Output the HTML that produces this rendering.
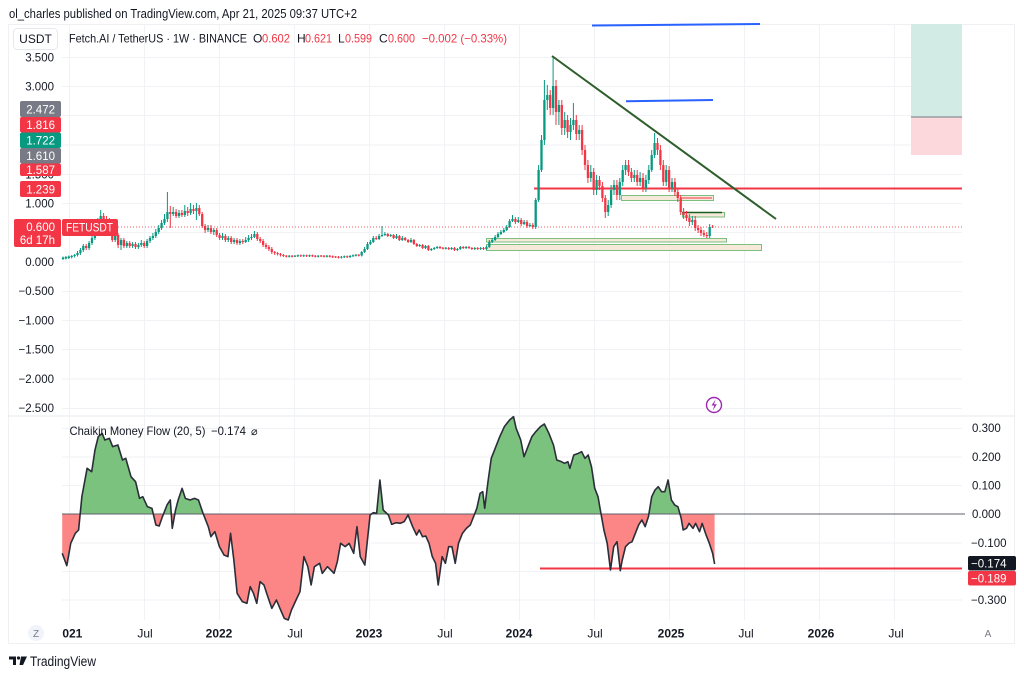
<!DOCTYPE html>
<html><head><meta charset="utf-8"><style>
html,body{margin:0;padding:0;background:#fff;}
svg{display:block;font-family:"Liberation Sans",sans-serif;}
</style></head><body>
<svg width="1024" height="676" viewBox="0 0 1024 676" xmlns="http://www.w3.org/2000/svg">
<defs>
<clipPath id="ctop"><rect x="0" y="0" width="1024" height="514"/></clipPath>
<clipPath id="cbot"><rect x="0" y="514" width="1024" height="200"/></clipPath>
<clipPath id="cax"><rect x="0" y="52" width="62" height="370"/></clipPath>
<clipPath id="ctime"><rect x="62" y="620" width="905" height="25"/></clipPath>
</defs>
<rect width="1024" height="676" fill="#fff"/>
<!-- header -->
<text x="9" y="18" font-size="12.5" fill="#131722" textLength="348" lengthAdjust="spacingAndGlyphs">ol_charles published on TradingView.com, Apr 21, 2025 09:37 UTC+2</text>
<!-- frame -->
<rect x="8.5" y="24.5" width="1006" height="619" fill="none" stroke="#eef0f3" stroke-width="1"/>
<line x1="8" y1="416" x2="1015" y2="416" stroke="#e6e8ee" stroke-width="1"/>
<!-- grid -->
<g stroke="#f0f2f6" stroke-width="1">
<line x1="69.5" y1="24" x2="69.5" y2="620"/><line x1="144.5" y1="24" x2="144.5" y2="620"/><line x1="219.5" y1="24" x2="219.5" y2="620"/><line x1="294.5" y1="24" x2="294.5" y2="620"/><line x1="369.5" y1="24" x2="369.5" y2="620"/><line x1="444.5" y1="24" x2="444.5" y2="620"/><line x1="519.5" y1="24" x2="519.5" y2="620"/><line x1="594.5" y1="24" x2="594.5" y2="620"/><line x1="669.5" y1="24" x2="669.5" y2="620"/><line x1="744.5" y1="24" x2="744.5" y2="620"/><line x1="819.5" y1="24" x2="819.5" y2="620"/><line x1="894.5" y1="24" x2="894.5" y2="620"/>
<line x1="62" y1="57.5" x2="962" y2="57.5"/><line x1="62" y1="86.5" x2="962" y2="86.5"/><line x1="62" y1="115.5" x2="962" y2="115.5"/><line x1="62" y1="145" x2="962" y2="145"/><line x1="62" y1="174.5" x2="962" y2="174.5"/><line x1="62" y1="203.5" x2="962" y2="203.5"/><line x1="62" y1="232.5" x2="962" y2="232.5"/><line x1="62" y1="262" x2="962" y2="262"/><line x1="62" y1="291.5" x2="962" y2="291.5"/><line x1="62" y1="320.5" x2="962" y2="320.5"/><line x1="62" y1="349.5" x2="962" y2="349.5"/><line x1="62" y1="379" x2="962" y2="379"/><line x1="62" y1="408.5" x2="962" y2="408.5"/>
<line x1="62" y1="428.5" x2="962" y2="428.5"/><line x1="62" y1="457" x2="962" y2="457"/><line x1="62" y1="485.5" x2="962" y2="485.5"/><line x1="62" y1="543" x2="962" y2="543"/><line x1="62" y1="571.5" x2="962" y2="571.5"/><line x1="62" y1="600" x2="962" y2="600"/>
</g>
<!-- position box -->
<rect x="911" y="24" width="51" height="93" fill="#d2ebe5"/>
<rect x="911" y="117" width="51" height="38" fill="#fcd8dc"/>
<line x1="911" y1="117" x2="962" y2="117" stroke="#8a8d96" stroke-width="1.2"/>
<!-- support zones -->
<g stroke="#7cbf7e" stroke-width="1">
<rect x="486.5" y="244.5" width="275" height="6" fill="#f6e9da"/>
<rect x="486.5" y="238.5" width="240" height="3.5" fill="#f6e9da"/>
<rect x="621.5" y="195.5" width="92" height="5" fill="#f6e9da"/>
<rect x="682.5" y="212.5" width="42" height="4.5" fill="#f6e9da"/>
</g>
<line x1="682" y1="212.5" x2="722" y2="212.5" stroke="#1b5e20" stroke-width="1.5"/>
<line x1="680" y1="198" x2="712" y2="198" stroke="#f23645" stroke-width="1"/>
<!-- red horizontal, dotted price line -->
<line x1="534" y1="188.5" x2="962" y2="188.5" stroke="#f23645" stroke-width="2"/>
<line x1="118" y1="227" x2="962" y2="227" stroke="#f23645" stroke-width="1" stroke-dasharray="1 2" opacity="0.8"/>
<!-- candles wicks -->
<path fill="none" stroke="#089981" stroke-width="1" d="M63 256.5V260M65.9 256V259.5M68.8 255.5V259M71.7 255V258.5M74.6 254V257.5M77.5 251V256.5M80.4 248V255M83.3 244V252M89.1 241V250M92 236V245M94.9 227V240M97.8 218V232M100.7 210V224M115.2 231V242M121 238V250M126.8 241V248M132.6 242V248M138.4 243V249M141.3 240V247M147.1 239V248M150 236V243M152.9 233V240M155.8 229V238M158.7 225V234M161.6 220V230M164.5 214V225M167.4 192V222M173.2 207V216M179 210V218M184.8 205V217M190.6 203V215M196.4 203V220M208 225V232M213.8 228V235M222.5 233V240M228.3 236V242M234.1 238V244M239.9 239V245M245.7 237V243M248.6 235V242M251.5 234V240M254.4 231V238M289.2 255V257.5M295 255V257M297.9 254.5V257M303.7 254.5V257M309.5 254.5V257M318.2 255V257.5M326.9 255V257.5M341.4 256V258.5M344.3 255.5V258M350.1 255V258M353 254.5V257M355.9 254V256.5M361.7 251V256.5M364.6 247V253M367.5 242V250M370.4 240V245M373.3 236V243M379.1 234V240M382 226V237M384.9 232V236M390.7 234V237M396.5 234V239M402.3 236V241M411 238V243M419.7 244V247M425.5 245V249M431.3 248V251M434.2 247V250M437.1 246V249M445.8 247V249.5M451.6 247V250M457.4 248V251M460.3 246V250M466.1 246V249M474.8 247V250M480.6 247V250M486.4 246V250M489.3 240V248M492.2 238V243M495.1 235V241M498 232V238M500.9 230V235M503.8 228V233M506.7 225V231M509.6 219V228M512.5 215V222M518.3 217V223M524.1 220V225M529.9 223V227M535.7 198V229M538.6 165V202M541.5 135V172M544.4 80V145M547.3 85V110M553.1 56V115M558.9 100V125M564.7 112V135M570.5 118V140M573.4 103V130M579.2 125V140M590.8 165V182M596.6 175V195M608.2 200V216M611.1 185V208M614 180V195M619.8 178V200M622.7 165V186M625.6 160V175M634.3 170V182M640.1 172V186M645.9 175V192M648.8 165V184M651.7 150V172M654.6 133V158M666.2 165V186M672 178V192M692.3 216V225M709.7 224V238"/>
<path fill="none" stroke="#f23645" stroke-width="1" d="M86.2 244V250M103.6 213V221M106.5 216V223M109.4 218V227M112.3 222V242M118.1 233V248M123.9 238V248M129.7 241V248M135.5 242V249M144.2 241V248M170.3 206V228M176.1 209V218M181.9 210V217M187.7 207V216M193.5 205V214M199.3 205V216M202.2 212V228M205.1 224V233M210.9 225V234M216.7 228V237M219.6 233V240M225.4 234V242M231.2 236V244M237 238V245M242.8 239V244M257.3 232V241M260.2 237V243M263.1 239V247M266 243V249M268.9 245V251M271.8 247V254M274.7 251V255M277.6 252V255.5M280.5 253V256.5M283.4 254V257M286.3 255V257.5M292.1 255V257.5M300.8 254.5V257M306.6 254.5V257M312.4 254.5V257M315.3 255V257.5M321.1 255V257M324 255V257.5M329.8 255V257.5M332.7 255.5V258M335.6 256V258M338.5 256V258.5M347.2 255.5V258M358.8 254V256.5M376.2 236V240M387.8 233V237M393.6 234V239M399.4 235V241M405.2 237V241M408.1 239V243M413.9 239V245M416.8 243V247M422.6 244V249M428.4 245V251M440 246V249M442.9 247V249.5M448.7 247V250M454.5 247V251M463.2 246V249M469 246V249M471.9 247V250M477.7 247V250M483.5 247V250M515.4 217V224M521.2 218V226M527 220V228M532.8 223V229M550.2 90V115M556 80V125M561.8 100V135M567.6 115V138M576.3 115V140M582.1 125V155M585 145V170M587.9 160V183M593.7 168V195M599.5 176V190M602.4 182V202M605.3 195V218M616.9 180V200M628.5 160V176M631.4 168V182M637.2 170V186M643 173V192M657.5 138V155M660.4 145V170M663.3 160V186M669.1 166V192M674.9 178V196M677.8 188V202M680.7 195V215M683.6 208V219M686.5 211V221M689.4 214V226M695.2 216V231M698.1 225V233M701 227V236M703.9 230V237M706.8 232V238M712.6 225V228"/>
<!-- candle bodies -->
<path fill="none" stroke="#089981" stroke-width="2.3" d="M63 259V257.5M65.9 258.5V257M68.8 258V256.5M71.7 257V256M74.6 256V255M77.5 255V253M80.4 253V250M83.3 250V246M89.1 248V243M92 243V238M94.9 238V230M97.8 230V222M100.7 222V216M115.2 240V235M121 245V240M126.8 246V243M132.6 246V244M138.4 247V245M141.3 245V243M147.1 246V241M150 241V238M152.9 238V236M155.8 236V232M158.7 232V228M161.6 228V223M164.5 223V219M167.4 219V212M173.2 214V212M179 216V213M184.8 215V211M190.6 213V209M196.4 211V208M208 230V228M213.8 232V230M222.5 238V236M228.3 240V238M234.1 242V240M239.9 243V241M245.7 242V240M248.6 240V238M251.5 238V237M254.4 237V234M289.2 256.8V255.8M295 256.8V255.8M297.9 256.3V255.3M303.7 256.3V255.3M309.5 256.3V255.3M318.2 256.8V255.8M326.9 256.8V255.8M341.4 257.8V256.8M344.3 257.3V256.3M350.1 257V256M353 256.3V255.3M355.9 255.8V254.8M361.7 255.5V252M364.6 252V249M367.5 249V244M370.4 244V242M373.3 242V238M379.1 239V236M382 236V235M384.9 235V234M390.7 236V235M396.5 238V236M402.3 240V238M411 242V240M419.7 246V245M425.5 248V246M431.3 250V249M434.2 249V248M437.1 248V247M445.8 248.8V247.8M451.6 249V248M457.4 250V249M460.3 249V247M466.1 248V247M474.8 249V248M480.6 249V248M486.4 249V247M489.3 247V242M492.2 242V240M495.1 240V237M498 237V234M500.9 234V232M503.8 232V230M506.7 230V227M509.6 227V221M512.5 221V219M518.3 222V220M524.1 224V222M529.9 226V225M535.7 227V200M538.6 200V170M541.5 170V140M544.4 140V100M547.3 100V95M553.1 108V86M558.9 112V105M564.7 128V120M570.5 132V125M573.4 125V120M579.2 134V130M590.8 178V172M596.6 190V180M608.2 212V205M611.1 205V190M614 190V185M619.8 195V182M622.7 182V170M625.6 170V165M634.3 178V175M640.1 182V178M645.9 188V180M648.8 180V170M651.7 170V155M654.6 155V143M666.2 182V170M672 188V182M692.3 222V220M709.7 236V227"/>
<path fill="none" stroke="#f23645" stroke-width="2.3" d="M86.2 246V248M103.6 216V219M106.5 219V221M109.4 221V224M112.3 224V240M118.1 235V245M123.9 240V246M129.7 243V246M135.5 244V247M144.2 243V246M170.3 212V214M176.1 212V216M181.9 213V215M187.7 211V213M193.5 209V211M199.3 208V214M202.2 214V226M205.1 226V230M210.9 228V232M216.7 230V235M219.6 235V238M225.4 236V240M231.2 238V242M237 240V243M242.8 241V242M257.3 234V239M260.2 239V241M263.1 241V245M266 245V247M268.9 247V249M271.8 249V252M274.7 252V253M277.6 253V254M280.5 254V255M283.4 255V256M286.3 255.8V256.8M292.1 255.8V256.8M300.8 255.3V256.3M306.6 255.3V256.3M312.4 255.3V256.3M315.3 255.8V256.8M321.1 255.5V256.5M324 255.8V256.8M329.8 255.8V256.8M332.7 256.3V257.3M335.6 256.5V257.5M338.5 256.8V257.8M347.2 256.3V257.3M358.8 254.8V255.8M376.2 238V239M387.8 234V236M393.6 235V238M399.4 236V240M405.2 238V240M408.1 240V242M413.9 240V244M416.8 244V246M422.6 245V248M428.4 246V250M440 247V248M442.9 247.8V248.8M448.7 248V249M454.5 248V250M463.2 247V248M469 247V248M471.9 248V249M477.7 248V249M483.5 248V249M515.4 219V222M521.2 220V224M527 222V226M532.8 225V227M550.2 95V108M556 86V112M561.8 105V128M567.6 120V132M576.3 120V134M582.1 130V150M585 150V165M587.9 165V178M593.7 172V190M599.5 180V186M602.4 186V198M605.3 198V212M616.9 185V195M628.5 165V172M631.4 172V178M637.2 175V182M643 178V188M657.5 143V150M660.4 150V165M663.3 165V182M669.1 170V188M674.9 182V192M677.8 192V198M680.7 198V212M683.6 212V215M686.5 215V218M689.4 218V222M695.2 220V228M698.1 228V230M701 230V233M703.9 233V235M706.8 235V236M712.6 226.5V227.5"/>
<!-- drawings -->
<line x1="552" y1="56" x2="776" y2="219" stroke="#2e5e2b" stroke-width="2"/>
<line x1="592" y1="25.5" x2="760" y2="24" stroke="#2962ff" stroke-width="2"/>
<line x1="626" y1="101.3" x2="713" y2="100" stroke="#2962ff" stroke-width="2"/>
<!-- lightning -->
<circle cx="714" cy="405" r="7.5" fill="#fff" stroke="#9c27b0" stroke-width="1.4"/>
<path d="M715.5 399.5L711.5 405.5H714.3L712.8 410.5L716.8 404.3H714Z" fill="#9c27b0"/>
<!-- legend -->
<rect x="13.5" y="28.5" width="44" height="21" rx="4" fill="#fff" stroke="#e6e8ee"/>
<text x="35.5" y="43" font-size="12" fill="#131722" text-anchor="middle">USDT</text>
<g font-size="12">
<text x="69" y="42.5" fill="#131722" textLength="178" lengthAdjust="spacingAndGlyphs">Fetch.AI / TetherUS · 1W · BINANCE</text>
<text x="253" y="42.5" fill="#131722">O</text><text x="262" y="42.5" fill="#f23645" textLength="28" lengthAdjust="spacingAndGlyphs">0.602</text>
<text x="297" y="42.5" fill="#131722">H</text><text x="305" y="42.5" fill="#f23645" textLength="27" lengthAdjust="spacingAndGlyphs">0.621</text>
<text x="338" y="42.5" fill="#131722">L</text><text x="345" y="42.5" fill="#f23645" textLength="27" lengthAdjust="spacingAndGlyphs">0.599</text>
<text x="379" y="42.5" fill="#131722">C</text><text x="388" y="42.5" fill="#f23645" textLength="27" lengthAdjust="spacingAndGlyphs">0.600</text>
<text x="422" y="42.5" fill="#f23645" textLength="85" lengthAdjust="spacingAndGlyphs">−0.002 (−0.33%)</text>
</g>
<!-- left axis labels -->
<g font-size="11.5" fill="#131722" text-anchor="end" clip-path="url(#cax)">
<text x="54" y="61.5">3.500</text><text x="54" y="90.5">3.000</text><text x="54" y="178.5">1.500</text><text x="54" y="207.5">1.000</text><text x="54" y="266">0.000</text><text x="54" y="295">−0.500</text><text x="54" y="324.5">−1.000</text><text x="54" y="353.5">−1.500</text><text x="54" y="383">−2.000</text><text x="54" y="412">−2.500</text>
</g>
<g font-size="11.5" fill="#fff" text-anchor="end">
<rect x="20" y="101" width="41" height="16" rx="2" fill="#787b86"/><text x="55" y="113.5">2.472</text>
<rect x="20" y="117" width="41" height="15.5" rx="2" fill="#f23645"/><text x="55" y="129">1.816</text>
<rect x="20" y="132.5" width="41" height="15.5" rx="2" fill="#089981"/><text x="55" y="144.5">1.722</text>
<rect x="20" y="148" width="41" height="15.5" rx="2" fill="#787b86"/><text x="55" y="160">1.610</text>
<rect x="20" y="163.5" width="41" height="12.5" rx="2" fill="#f23645"/><text x="55" y="174">1.587</text>
<rect x="20" y="181" width="41" height="16" rx="2" fill="#f23645"/><text x="55" y="193.5">1.239</text>
<rect x="14" y="219" width="47" height="28" rx="2" fill="#f23645"/><text x="55" y="231">0.600</text><text x="55" y="244">6d 17h</text>
<rect x="62" y="219" width="56" height="17" rx="2" fill="#f23645"/><text x="66" y="231.5" text-anchor="start" textLength="47" lengthAdjust="spacingAndGlyphs">FETUSDT</text>
</g>
<!-- CMF -->
<g clip-path="url(#ctop)"><g transform="translate(0,400) scale(0.655,0.33333)"><polygon fill="#7bc27e" points="95,460 102,497 108,430 115,400 120,390 125,290 133,205 140,215 145,150 150,110 156,100 160,120 167,115 172,140 180,135 187,180 192,175 200,230 207,245 213,295 218,290 225,320 232,325 238,375 243,378 248,350 255,315 260,300 263,385 268,330 272,300 278,265 283,295 290,300 297,295 303,300 310,340 318,380 322,410 328,395 335,440 342,465 348,470 352,400 357,480 362,580 370,605 377,610 382,560 387,580 392,610 397,545 403,555 408,585 415,625 422,600 428,628 434,655 440,660 445,630 452,600 458,575 464,470 470,500 475,555 480,500 488,490 492,520 500,500 510,520 515,485 520,430 527,440 533,430 540,460 545,380 550,470 557,495 565,345 570,338 575,340 580,240 585,330 593,345 598,373 605,368 611,370 617,365 623,345 630,380 636,405 640,390 645,410 650,408 655,430 660,470 665,490 669,555 675,470 680,490 685,440 690,440 695,490 700,430 706,400 712,385 718,375 724,345 728,325 733,280 737,275 740,325 745,245 750,175 757,140 763,110 770,80 778,60 784,50 788,85 795,120 800,170 806,140 812,110 818,95 825,80 831,72 838,100 845,135 850,180 857,185 862,190 867,185 870,205 876,165 883,160 888,155 893,175 898,165 903,200 908,265 913,290 917,335 922,390 927,430 932,510 937,440 942,425 947,512 950,480 955,440 960,430 965,425 970,400 975,375 980,360 985,380 990,350 995,290 1000,270 1005,260 1010,275 1015,275 1020,240 1025,300 1030,315 1035,320 1040,355 1043,390 1048,385 1052,370 1058,385 1062,370 1068,395 1072,370 1078,405 1083,430 1088,460 1091,492 1091,342 95,342"/></g></g>
<g clip-path="url(#cbot)"><g transform="translate(0,400) scale(0.655,0.33333)"><polygon fill="#fc8585" points="95,460 102,497 108,430 115,400 120,390 125,290 133,205 140,215 145,150 150,110 156,100 160,120 167,115 172,140 180,135 187,180 192,175 200,230 207,245 213,295 218,290 225,320 232,325 238,375 243,378 248,350 255,315 260,300 263,385 268,330 272,300 278,265 283,295 290,300 297,295 303,300 310,340 318,380 322,410 328,395 335,440 342,465 348,470 352,400 357,480 362,580 370,605 377,610 382,560 387,580 392,610 397,545 403,555 408,585 415,625 422,600 428,628 434,655 440,660 445,630 452,600 458,575 464,470 470,500 475,555 480,500 488,490 492,520 500,500 510,520 515,485 520,430 527,440 533,430 540,460 545,380 550,470 557,495 565,345 570,338 575,340 580,240 585,330 593,345 598,373 605,368 611,370 617,365 623,345 630,380 636,405 640,390 645,410 650,408 655,430 660,470 665,490 669,555 675,470 680,490 685,440 690,440 695,490 700,430 706,400 712,385 718,375 724,345 728,325 733,280 737,275 740,325 745,245 750,175 757,140 763,110 770,80 778,60 784,50 788,85 795,120 800,170 806,140 812,110 818,95 825,80 831,72 838,100 845,135 850,180 857,185 862,190 867,185 870,205 876,165 883,160 888,155 893,175 898,165 903,200 908,265 913,290 917,335 922,390 927,430 932,510 937,440 942,425 947,512 950,480 955,440 960,430 965,425 970,400 975,375 980,360 985,380 990,350 995,290 1000,270 1005,260 1010,275 1015,275 1020,240 1025,300 1030,315 1035,320 1040,355 1043,390 1048,385 1052,370 1058,385 1062,370 1068,395 1072,370 1078,405 1083,430 1088,460 1091,492 1091,342 95,342"/></g></g>
<line x1="62" y1="514" x2="965" y2="514" stroke="#5d606b" stroke-width="1"/>
<line x1="540" y1="568.5" x2="962" y2="568.5" stroke="#f23645" stroke-width="2"/>
<g transform="translate(0,400) scale(0.655,0.33333)"><polyline fill="none" stroke="#2a2e39" stroke-width="1.6" vector-effect="non-scaling-stroke" stroke-linejoin="round" points="95,460 102,497 108,430 115,400 120,390 125,290 133,205 140,215 145,150 150,110 156,100 160,120 167,115 172,140 180,135 187,180 192,175 200,230 207,245 213,295 218,290 225,320 232,325 238,375 243,378 248,350 255,315 260,300 263,385 268,330 272,300 278,265 283,295 290,300 297,295 303,300 310,340 318,380 322,410 328,395 335,440 342,465 348,470 352,400 357,480 362,580 370,605 377,610 382,560 387,580 392,610 397,545 403,555 408,585 415,625 422,600 428,628 434,655 440,660 445,630 452,600 458,575 464,470 470,500 475,555 480,500 488,490 492,520 500,500 510,520 515,485 520,430 527,440 533,430 540,460 545,380 550,470 557,495 565,345 570,338 575,340 580,240 585,330 593,345 598,373 605,368 611,370 617,365 623,345 630,380 636,405 640,390 645,410 650,408 655,430 660,470 665,490 669,555 675,470 680,490 685,440 690,440 695,490 700,430 706,400 712,385 718,375 724,345 728,325 733,280 737,275 740,325 745,245 750,175 757,140 763,110 770,80 778,60 784,50 788,85 795,120 800,170 806,140 812,110 818,95 825,80 831,72 838,100 845,135 850,180 857,185 862,190 867,185 870,205 876,165 883,160 888,155 893,175 898,165 903,200 908,265 913,290 917,335 922,390 927,430 932,510 937,440 942,425 947,512 950,480 955,440 960,430 965,425 970,400 975,375 980,360 985,380 990,350 995,290 1000,270 1005,260 1010,275 1015,275 1020,240 1025,300 1030,315 1035,320 1040,355 1043,390 1048,385 1052,370 1058,385 1062,370 1068,395 1072,370 1078,405 1083,430 1088,460 1091,492"/></g>
<text x="69.5" y="435" font-size="12" fill="#131722" textLength="136" lengthAdjust="spacingAndGlyphs">Chaikin Money Flow (20, 5)</text>
<text x="211" y="435" font-size="12" fill="#131722" textLength="35" lengthAdjust="spacingAndGlyphs">−0.174</text>
<text x="251" y="435" font-size="11" fill="#131722">⌀</text>
<!-- right axis lower pane -->
<g font-size="11.5" fill="#131722">
<text x="972" y="432">0.300</text><text x="972" y="461">0.200</text><text x="972" y="489.5">0.100</text><text x="972" y="518">0.000</text><text x="971" y="547">−0.100</text><text x="971" y="604">−0.300</text>
</g>
<rect x="968" y="556" width="48" height="14.5" rx="2" fill="#131722"/>
<text x="971" y="567.5" font-size="11.5" fill="#fff">−0.174</text>
<rect x="968" y="571" width="48" height="14.5" rx="2" fill="#f23645"/>
<text x="971" y="582.5" font-size="11.5" fill="#fff">−0.189</text>
<!-- time axis -->
<circle cx="36" cy="633" r="8" fill="#f0f3fa"/>
<text x="36" y="637" font-size="10" fill="#787b86" text-anchor="middle">Z</text>
<circle cx="988" cy="633" r="8" fill="#fff"/>
<text x="988" y="637" font-size="10" fill="#787b86" text-anchor="middle">A</text>
<g font-size="12" fill="#131722" text-anchor="middle" clip-path="url(#ctime)">
<text x="69" y="637.5" font-weight="bold">2021</text>
<text x="145" y="637.5">Jul</text>
<text x="219" y="637.5" font-weight="bold">2022</text>
<text x="295" y="637.5">Jul</text>
<text x="369" y="637.5" font-weight="bold">2023</text>
<text x="445" y="637.5">Jul</text>
<text x="519" y="637.5" font-weight="bold">2024</text>
<text x="595" y="637.5">Jul</text>
<text x="671" y="637.5" font-weight="bold">2025</text>
<text x="746" y="637.5">Jul</text>
<text x="821" y="637.5" font-weight="bold">2026</text>
<text x="896" y="637.5">Jul</text>
</g>
<!-- TradingView logo -->
<path d="M9 656.5H16V665H13V659.5H9Z" fill="#131722"/>
<circle cx="18.5" cy="658" r="1.6" fill="#131722"/>
<path d="M21 656.5H27L23 665H19.5Z" fill="#131722"/>
<text x="30" y="666" font-size="13.5" fill="#131722" textLength="66" lengthAdjust="spacingAndGlyphs">TradingView</text>
</svg>
</body></html>
